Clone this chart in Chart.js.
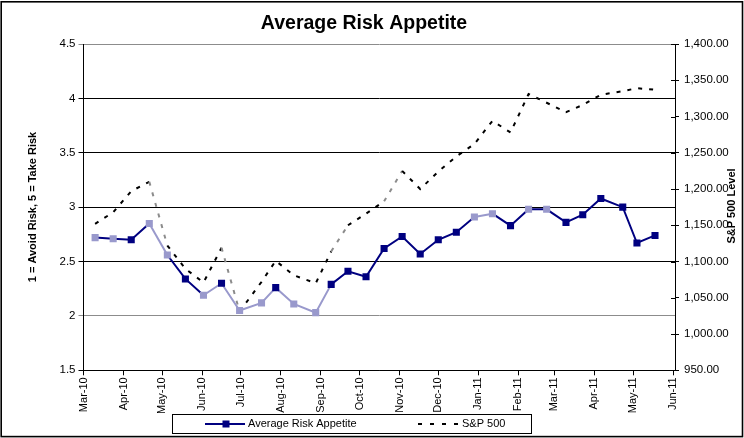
<!DOCTYPE html>
<html><head><meta charset="utf-8">
<script src="https://cdn.jsdelivr.net/npm/chart.js@4.4.0/dist/chart.umd.min.js"></script>
<style>html,body{margin:0;padding:0;background:#fff;}#wrap{width:744px;height:438px;position:relative;}canvas{display:block;}</style>
</head><body><div id="wrap"><canvas id="c" width="744" height="438"></canvas></div>
<script>
// ---- data ----
const chartTitle = 'Average Risk Appetite';
const leftAxisTitle = '1 = Avoid Risk, 5 = Take Risk';
const rightAxisTitle = 'S&P 500 Level';
const seriesNames = ['Average Risk Appetite', 'S&P 500'];

const surveyDates = ['2010-03-10','2010-03-24','2010-04-07','2010-04-21','2010-05-05','2010-05-19','2010-06-02','2010-06-16',
  '2010-06-30','2010-07-17','2010-07-28','2010-08-11','2010-08-28','2010-09-09','2010-09-22','2010-10-06',
  '2010-10-20','2010-11-03','2010-11-17','2010-12-01','2010-12-15','2010-12-29','2011-01-12','2011-01-26',
  '2011-02-09','2011-02-23','2011-03-10','2011-03-23','2011-04-06','2011-04-23','2011-05-04','2011-05-18'];
const riskAppetite = [2.72,2.71,2.70,2.85,2.56,2.34,2.19,2.30,2.05,2.12,2.26,2.11,2.03,2.29,2.41,2.36,
  2.62,2.73,2.57,2.70,2.77,2.91,2.94,2.83,2.98,2.98,2.86,2.93,3.08,3.00,2.67,2.74];
const sp500 = [1152,1168,1197,1210,1122,1090,1071,1119,1031,1072,1101,1081,1070,1114,1150,1166,
  1183,1225,1200,1224,1245,1262,1294,1278,1331,1319,1306,1316,1330,1335,1339,1337];

const monthTickDates = ['2010-03-01','2010-04-01','2010-05-01','2010-06-01','2010-07-01','2010-08-01','2010-09-01','2010-10-01',
  '2010-11-01','2010-12-01','2011-01-01','2011-02-01','2011-03-01','2011-04-01','2011-05-01','2011-06-01'];
const monthLabels = ['Mar-10','Apr-10','May-10','Jun-10','Jul-10','Aug-10','Sep-10','Oct-10',
  'Nov-10','Dec-10','Jan-11','Feb-11','Mar-11','Apr-11','May-11','Jun-11'];
const axisStartDate = '2010-03-01';
const axisEndDate = '2011-06-02';

// ---- styling (kept apart from the data) ----
const NAVY = '#000080', LIGHT = '#9999cc', GRAYDASH = '#8c8c8c';
const lightPoints = [0,1,3,4,6,8,9,11,12,21,22,24,25];
const lightSegments = [3,6,7,8,9,10,11,12,21];
const graySpSegments = [3,7,13,16];
const FONT = '"Liberation Sans", Arial, sans-serif';

function dayNum(s){ const [y,m,d]=s.split('-').map(Number); const [y0,m0,d0]=axisStartDate.split('-').map(Number);
  return (Date.UTC(y,m-1,d)-Date.UTC(y0,m0-1,d0))/86400000; }

const riskData = surveyDates.map((d,i)=>({x:dayNum(d), y:riskAppetite[i]}));
const spData = surveyDates.map((d,i)=>({x:dayNum(d), y:sp500[i]}));
const tickDays = monthTickDates.map(dayNum);

const decor = {
  id:'decor',
  afterDraw(chart){
    const ctx = chart.ctx, ca = chart.chartArea;
    ctx.save();
    // outer frame
    ctx.strokeStyle='#000'; ctx.lineWidth=1.6;
    ctx.strokeRect(1.2,1.8,741.3,434.8);
    // title
    ctx.fillStyle='#000'; ctx.font='bold 19.5px '+FONT; ctx.textAlign='center'; ctx.textBaseline='alphabetic';
    ctx.fillText(chartTitle, 364, 29);
    // axis titles
    ctx.font='bold 11px '+FONT; ctx.textBaseline='middle';
    ctx.save(); ctx.translate(33,207); ctx.rotate(-Math.PI/2); ctx.fillText(leftAxisTitle,0,0); ctx.restore();
    ctx.save(); ctx.translate(732,206); ctx.rotate(-Math.PI/2); ctx.fillText(rightAxisTitle,0,0); ctx.restore();
    // inner tick marks of right axis
    const y1 = chart.scales.y1;
    ctx.strokeStyle='#000'; ctx.lineWidth=1;
    y1.ticks.forEach(t=>{ const py=Math.round(y1.getPixelForValue(t.value))+0.5; ctx.beginPath(); ctx.moveTo(ca.right-4,py); ctx.lineTo(ca.right,py); ctx.stroke(); });
    // legend
    ctx.lineWidth=1; ctx.strokeStyle='#000';
    ctx.strokeRect(172.5,414.5,359,19);
    const ly=424;
    ctx.strokeStyle=NAVY; ctx.lineWidth=2; ctx.beginPath(); ctx.moveTo(205,ly); ctx.lineTo(245,ly); ctx.stroke();
    ctx.fillStyle=NAVY; ctx.fillRect(222.5,ly-3.5,7,7);
    ctx.fillStyle='#000'; ctx.font='11px '+FONT; ctx.textAlign='left'; ctx.textBaseline='middle';
    ctx.fillText(chart.data.datasets[0].label, 248, ly);
    ctx.strokeStyle='#000'; ctx.lineWidth=2; ctx.setLineDash([4,8]);
    ctx.beginPath(); ctx.moveTo(418,ly); ctx.lineTo(460,ly); ctx.stroke(); ctx.setLineDash([]);
    ctx.fillText(chart.data.datasets[1].label, 462, ly);
    ctx.restore();
  }
};

new Chart(document.getElementById('c'), {
  type:'line',
  data:{ datasets:[
    { label:seriesNames[0], data:riskData, yAxisID:'y', borderColor:NAVY, borderWidth:2,
      pointStyle:'rect', pointRadius:5, pointHoverRadius:5, pointBorderWidth:0,
      pointBackgroundColor: riskData.map((p,i)=> lightPoints.includes(i)?LIGHT:NAVY),
      segment:{ borderColor: c => lightSegments.includes(c.p0DataIndex)?LIGHT:NAVY },
      tension:0, order:1 },
    { label:seriesNames[1], data:spData, yAxisID:'y1', borderColor:'#000', borderWidth:2, borderDash:[4,7],
      segment:{ borderColor: c => graySpSegments.includes(c.p0DataIndex)?GRAYDASH:'#000' },
      pointRadius:0, tension:0, order:2 }
  ]},
  options:{
    responsive:false, animation:false, devicePixelRatio:1,
    layout:{ padding:{ top:44, left:0, right:0, bottom:0 } },
    plugins:{ legend:{display:false}, title:{display:false}, tooltip:{enabled:false} },
    scales:{
      x:{ type:'linear', position:'bottom', min:0, max:dayNum(axisEndDate)+0.5,
        afterBuildTicks: s => { s.ticks = tickDays.map(v=>({value:v})); },
        afterFit: s => { s.height = 438-370.3; },
        ticks:{ autoSkip:false, minRotation:90, maxRotation:90, padding:2, color:'#000',
          font:{family:FONT, size:11}, callback:(v,i)=>monthLabels[i] },
        grid:{ drawOnChartArea:false, drawTicks:true, tickLength:5, color:'#000' },
        border:{ display:true, color:'#000', width:1 } },
      y:{ type:'linear', position:'left', min:1.5, max:4.5,
        afterFit: s => { s.width = 83.5; },
        ticks:{ stepSize:0.5, padding:3, color:'#000', font:{family:FONT, size:11.5},
          callback: v => String(Math.round(v*10)/10) },
        grid:{ color: c => (c.tick && (c.tick.value===4.5 || c.tick.value===2)) ? '#8c8c8c' : '#000', tickLength:5, lineWidth:1 },
        border:{ display:true, color:'#000', width:1 } },
      y1:{ type:'linear', position:'right', min:950, max:1400,
        afterFit: s => { s.width = 744-675; },
        ticks:{ stepSize:50, padding:5, color:'#000', font:{family:FONT, size:11.5},
          callback: v => Number(v).toLocaleString('en-US',{minimumFractionDigits:2, maximumFractionDigits:2}) },
        grid:{ drawOnChartArea:false, drawTicks:true, tickLength:4, color:'#000' },
        border:{ display:true, color:'#000', width:1 } }
    }
  },
  plugins:[decor]
});
</script></body></html>
